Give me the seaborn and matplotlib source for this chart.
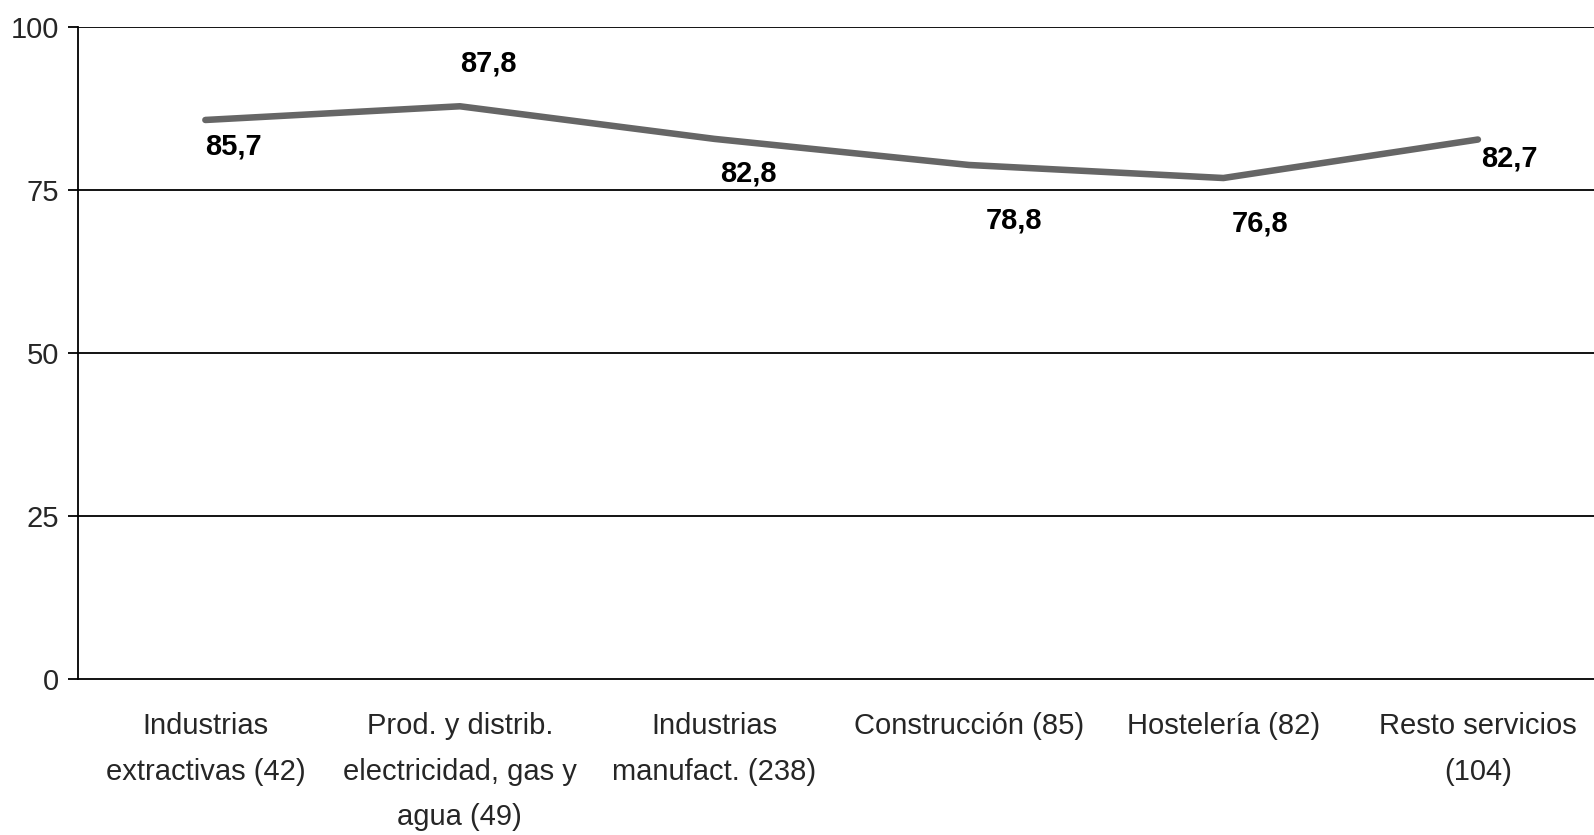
import numpy as np
import pandas as pd
import matplotlib
matplotlib.use('Agg')
import matplotlib.pyplot as plt
import seaborn as sns

# Data
categories = [
    'Industrias\nextractivas (42)',
    'Prod. y distrib.\nelectricidad, gas y\nagua (49)',
    'Industrias\nmanufact. (238)',
    'Construcción (85)',
    'Hostelería (82)',
    'Resto servicios\n(104)',
]
values = [85.7, 87.8, 82.8, 78.8, 76.8, 82.7]
value_labels = ['85,7', '87,8', '82,8', '78,8', '76,8', '82,7']
y_ticks = [0, 25, 50, 75, 100]

# label offsets in points (dx, dy), text left-aligned at the point
label_offsets = [(0, -19), (0, 31), (4, -25), (12, -40), (6, -33), (2, -14)]

sns.set_style('white')
plt.rcParams['font.family'] = ['Liberation Sans', 'DejaVu Sans']

fig = plt.figure(figsize=(15.94, 8.35), dpi=100)
ax = fig.add_axes([0.049, 0.187, 0.958, 0.781])

df = pd.DataFrame({'pos': np.arange(len(categories)), 'value': values})
sns.lineplot(data=df, x='pos', y='value', ax=ax, color='#666666',
             linewidth=4.7, solid_capstyle='round', solid_joinstyle='round')

for i, (v, lab) in enumerate(zip(values, value_labels)):
    dx, dy = label_offsets[i]
    ax.annotate(lab, xy=(i, v), xytext=(dx, dy), textcoords='offset points',
                ha='left', va='center', fontsize=21, fontweight='bold',
                color='black')

ax.set_xlim(-0.5, len(categories) - 0.5)
ax.set_ylim(0, 100)
ax.set_yticks(y_ticks)
ax.set_yticklabels([str(t) for t in y_ticks], fontsize=21)
for t in y_ticks[1:]:
    ax.axhline(t, color='black', linewidth=1.3, zorder=0)

ax.set_xticks(np.arange(len(categories)))
ax.set_xticklabels(categories, fontsize=21, linespacing=1.8)
ax.set_xticks(np.arange(-0.5, len(categories) + 0.5, 1), minor=True)
ax.tick_params(axis='x', which='major', length=0, pad=24)
ax.tick_params(axis='x', which='minor', length=8, width=1.3, color='black',
               direction='out')
ax.tick_params(axis='y', length=7, width=1.3, color='black', direction='out',
               pad=7, left=True)
ax.set_xlabel('')
ax.set_ylabel('')

for side in ['top', 'right']:
    ax.spines[side].set_visible(False)
for side in ['left', 'bottom']:
    ax.spines[side].set_color('black')
    ax.spines[side].set_linewidth(1.3)

fig.savefig('out.png', dpi=100)
